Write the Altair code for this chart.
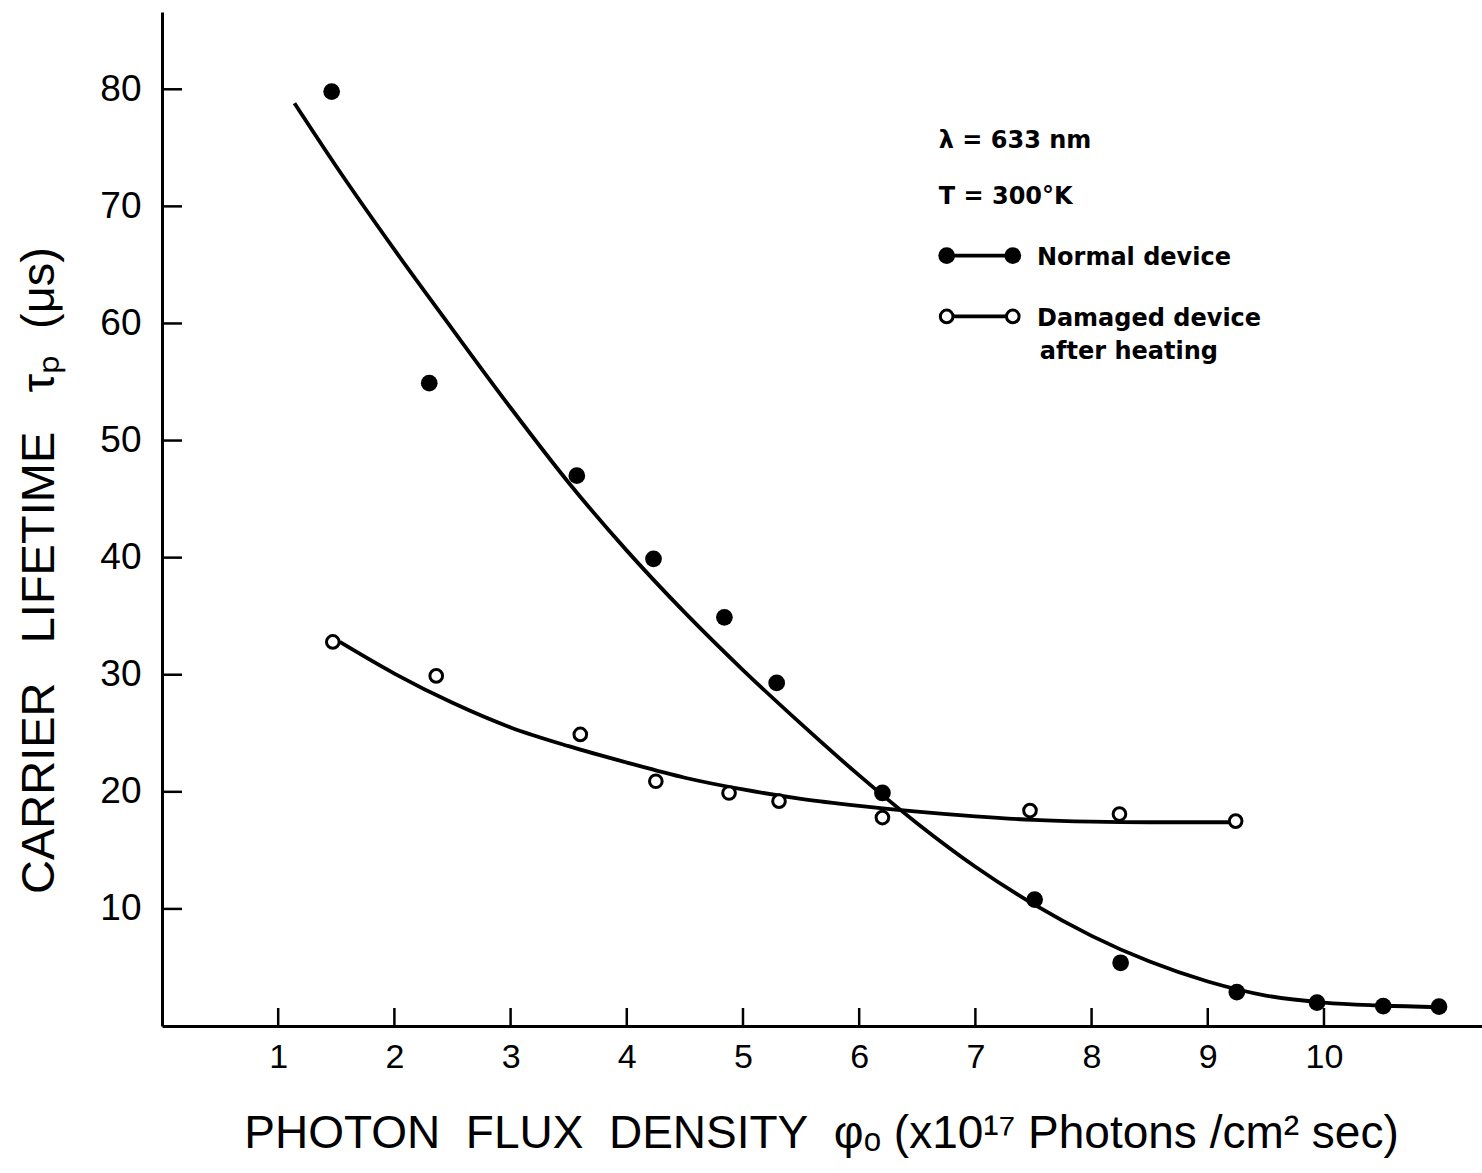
import altair as alt
import pandas as pd

# measured points
normal_x = [1.46, 2.30, 3.57, 4.23, 4.84, 5.29, 6.20, 7.51, 8.25, 9.25, 9.94, 10.51, 10.99]
normal_y = [79.8, 54.9, 47.0, 39.9, 34.9, 29.3, 19.9, 10.8, 5.4, 2.9, 2.0, 1.7, 1.65]
damaged_x = [1.47, 2.36, 3.60, 4.25, 4.88, 5.31, 6.20, 7.47, 8.24, 9.24]
damaged_y = [32.8, 29.9, 24.9, 20.9, 19.9, 19.2, 17.8, 18.4, 18.1, 17.5]

# hand-drawn smooth curves
normal_fit_x = [1.14, 1.5, 2.0, 2.5, 3.0, 3.5, 4.0, 4.5, 5.0, 5.5, 6.0, 6.5, 7.0, 7.5,
                8.0, 8.5, 9.0, 9.5, 10.0, 10.5, 11.0]
normal_fit_y = [78.8, 73.4, 66.3, 59.5, 52.8, 46.4, 40.6, 35.3, 30.4, 25.8, 21.4, 17.3, 13.6, 10.4,
                7.7, 5.5, 3.8, 2.6, 2.0, 1.75, 1.6]
damaged_fit_x = [1.53, 2.0, 2.5, 3.0, 3.5, 4.0, 4.5, 5.0, 5.5, 6.0, 6.5, 7.0, 7.5, 8.0, 8.5, 9.22]
damaged_fit_y = [32.8, 30.1, 27.6, 25.5, 23.9, 22.5, 21.2, 20.2, 19.4, 18.8, 18.3, 17.9, 17.6,
                 17.45, 17.4, 17.4]

x_ticks = [1, 2, 3, 4, 5, 6, 7, 8, 9, 10]
y_ticks = [10, 20, 30, 40, 50, 60, 70, 80]

# annotation / legend text (positions in data units)
ann_text = ["λ = 633 nm", "T = 300°K", "Normal device", "Damaged device", "after heating"]
ann_x = [6.685, 6.685, 7.53, 7.53, 7.555]
ann_y = [75.6, 70.8, 65.6, 60.4, 57.6]
legend_sym_x = [6.753, 7.322]
legend_normal_y = 65.8
legend_damaged_y = 60.6

W, H = 1320, 1014
XDOM = [0, 11.36]
YDOM = [0, 86.6]
AX_FONT = "Liberation Sans"

x_axis = alt.Axis(
    values=x_ticks, format="d", ticks=False, tickSize=0, grid=False,
    domainColor="black", domainWidth=3, labelFont=AX_FONT, labelFontSize=34,
    labelColor="black", labelPadding=14,
    title="PHOTON\u00a0\u00a0FLUX\u00a0\u00a0DENSITY\u00a0\u00a0φₒ\u00a0(x10¹⁷\u00a0Photons\u00a0/cm²\u00a0sec)",
    titleFont=AX_FONT, titleFontSize=46, titleFontWeight="normal", titleColor="black",
    titleX=659, titleY=121, titleBaseline="alphabetic", titleAlign="center",
)
y_axis = alt.Axis(
    values=y_ticks, format="d", ticks=False, tickSize=0, grid=False,
    domainColor="black", domainWidth=3, labelFont=AX_FONT, labelFontSize=37,
    labelColor="black", labelPadding=21,
    title="CARRIER\u00a0\u00a0\u00a0LIFETIME\u00a0\u00a0\u00a0τₚ\u00a0\u00a0(μs)",
    titleFont=AX_FONT, titleFontSize=47, titleFontWeight="normal", titleColor="black",
    titleAngle=-90, titleX=-123, titleY=558, titleBaseline="middle", titleAlign="center",
)

xs = alt.Scale(domain=XDOM, nice=False, zero=False)
ys = alt.Scale(domain=YDOM, nice=False, zero=False)


def X(field="x"):
    return alt.X(f"{field}:Q", scale=xs, axis=x_axis)


def Y(field="y"):
    return alt.Y(f"{field}:Q", scale=ys, axis=y_axis)


normal_pts = pd.DataFrame({"x": normal_x, "y": normal_y})
damaged_pts = pd.DataFrame({"x": damaged_x, "y": damaged_y})
normal_fit = pd.DataFrame({"x": normal_fit_x, "y": normal_fit_y})
damaged_fit = pd.DataFrame({"x": damaged_fit_x, "y": damaged_fit_y})
xt = pd.DataFrame({"x": x_ticks})
yt = pd.DataFrame({"y": y_ticks})
ann = pd.DataFrame({"x": ann_x, "y": ann_y, "t": ann_text})
leg_line = pd.DataFrame({"x": [legend_sym_x[0]] * 2, "x2": [legend_sym_x[1]] * 2,
                         "y": [legend_normal_y, legend_damaged_y]})
leg_n = pd.DataFrame({"x": legend_sym_x, "y": [legend_normal_y] * 2})
leg_d = pd.DataFrame({"x": legend_sym_x, "y": [legend_damaged_y] * 2})

line_n = alt.Chart(normal_fit).mark_line(interpolate="monotone", color="black", strokeWidth=3.8).encode(x=X(), y=Y())
line_d = alt.Chart(damaged_fit).mark_line(interpolate="monotone", color="black", strokeWidth=3.8).encode(x=X(), y=Y())

pts_n = alt.Chart(normal_pts).mark_point(shape="circle", filled=True, color="black", size=280, opacity=1).encode(x=X(), y=Y())
pts_d = alt.Chart(damaged_pts).mark_point(shape="circle", filled=True, fill="white", stroke="black",
                                          strokeWidth=3, size=160, opacity=1).encode(x=X(), y=Y())

xtick_rules = alt.Chart(xt).mark_rule(color="black", strokeWidth=2.5).encode(
    x=X(), y=alt.value(H), y2=alt.value(H - 18))
ytick_rules = alt.Chart(yt).mark_rule(color="black", strokeWidth=2.5).encode(
    y=Y(), x=alt.value(0), x2=alt.value(20))

ann_layer = alt.Chart(ann).mark_text(align="left", baseline="middle", font="DejaVu Sans",
                                     fontWeight="bold", fontSize=24, color="black").encode(
    x=X(), y=Y(), text="t:N")

leg_rules = alt.Chart(leg_line).mark_rule(color="black", strokeWidth=3.8).encode(
    x=X(), x2="x2:Q", y=Y())
leg_pn = alt.Chart(leg_n).mark_point(shape="circle", filled=True, color="black", size=280, opacity=1).encode(x=X(), y=Y())
leg_pd = alt.Chart(leg_d).mark_point(shape="circle", filled=True, fill="white", stroke="black",
                                     strokeWidth=3, size=160, opacity=1).encode(x=X(), y=Y())

chart = alt.layer(
    xtick_rules, ytick_rules, line_n, line_d, pts_n, pts_d,
    leg_rules, leg_pn, leg_pd, ann_layer,
).properties(
    width=W, height=H,
    autosize=alt.AutoSizeParams(type="none"),
    padding={"left": 162, "top": 12, "right": 0, "bottom": 147},
    background="white",
).configure_view(stroke=None)

chart.save("out.html", embed_options={"renderer": "svg", "actions": False})
